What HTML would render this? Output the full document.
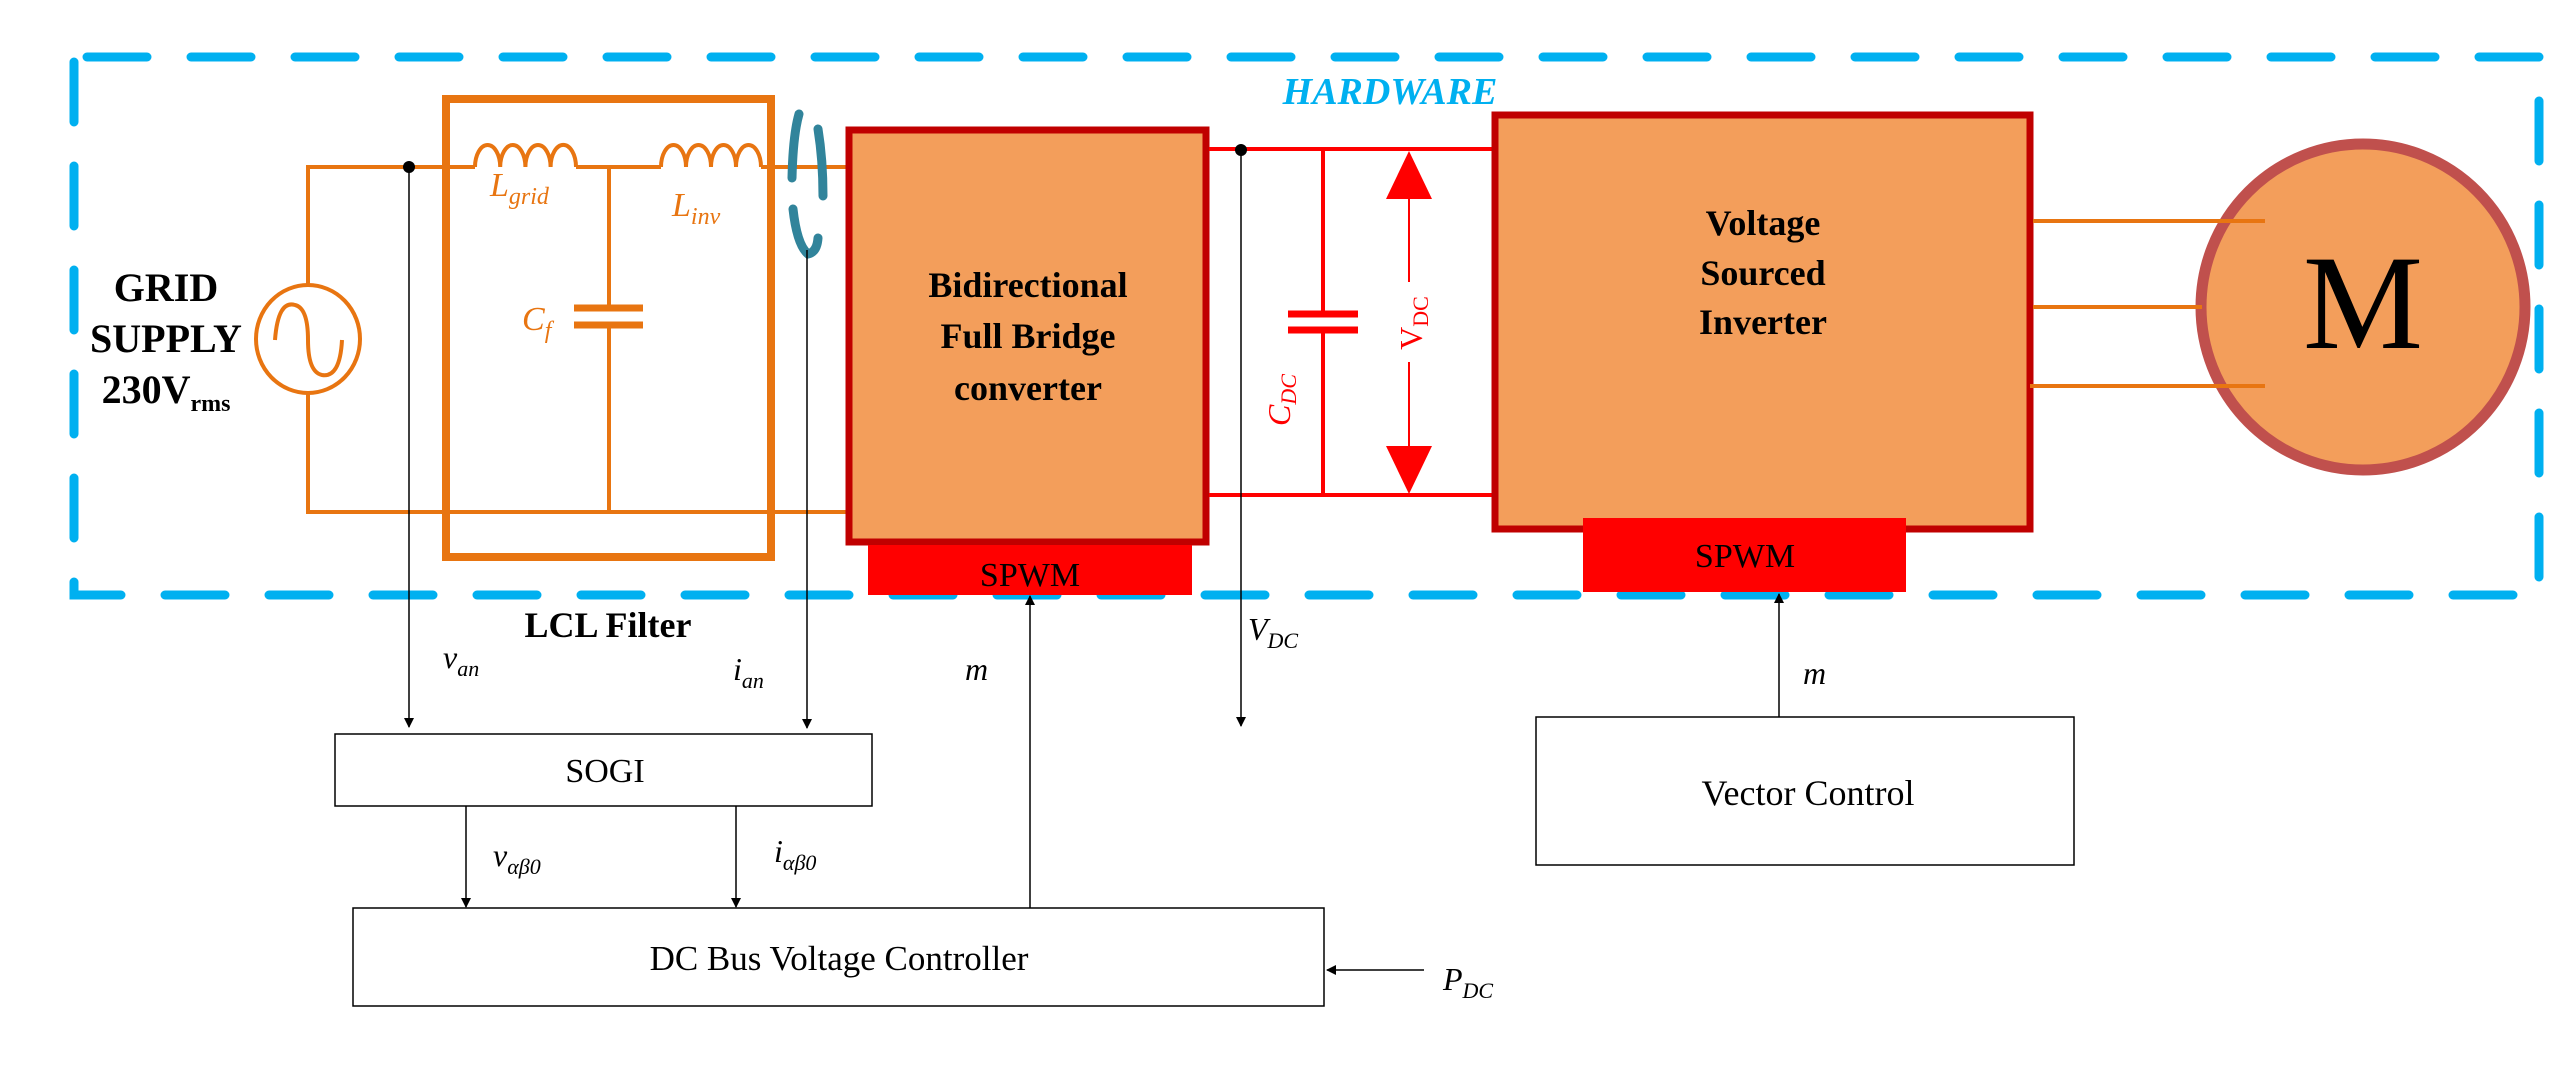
<!DOCTYPE html>
<html><head><meta charset="utf-8"><style>
html,body{margin:0;padding:0;background:#fff;}
svg{display:block;}
text{font-family:"Liberation Serif",serif;}
</style></head><body>
<svg width="2574" height="1073" viewBox="0 0 2574 1073" xmlns="http://www.w3.org/2000/svg">
<defs>
<marker id="ah" markerWidth="10" markerHeight="10" refX="9" refY="5" orient="auto" markerUnits="userSpaceOnUse" viewBox="0 0 10 10">
<path d="M0,0 L10,5 L0,10 z" fill="#000"/>
</marker>
</defs>
<!-- dashed hardware box -->
<rect x="74" y="57" width="2465" height="538" fill="none" stroke="#00b0f0" stroke-width="9" stroke-dasharray="60 44" stroke-dashoffset="-13" stroke-linecap="round"/>
<text x="1390" y="104" font-size="38" font-weight="bold" font-style="italic" fill="#00b0f0" text-anchor="middle">HARDWARE</text>

<!-- grid source wires -->
<g stroke="#e87511" stroke-width="4" fill="none">
<polyline points="308,286 308,167 475,167"/>
<polyline points="308,392 308,512 846,512"/>
<line x1="576" y1="167" x2="661" y2="167"/>
<line x1="761" y1="167" x2="846" y2="167"/>
<line x1="609" y1="167" x2="609" y2="308"/>
<line x1="609" y1="325" x2="609" y2="512"/>
<path d="M475 167 A12.6 22 0 0 1 500.2 167 A12.6 22 0 0 1 525.4 167 A12.6 22 0 0 1 550.6 167 A12.6 22 0 0 1 576 167"/>
<path d="M661 167 A12.5 22 0 0 1 686 167 A12.5 22 0 0 1 711 167 A12.5 22 0 0 1 736 167 A12.5 22 0 0 1 761 167"/>
<ellipse cx="308" cy="339" rx="52" ry="54" stroke-width="4"/>
<path d="M275 340 Q278 300 295 305 Q308 308 308 340 Q308 372 322 375 Q340 378 342 340"/>
</g>
<g stroke="#e87511" stroke-width="7">
<line x1="574" y1="308" x2="643" y2="308"/>
<line x1="574" y1="325" x2="643" y2="325"/>
</g>
<rect x="446" y="99" width="325" height="458" fill="none" stroke="#e87511" stroke-width="8"/>
<text x="166" y="301" font-size="40" font-weight="bold" text-anchor="middle">GRID</text>
<text x="166" y="352" font-size="40" font-weight="bold" text-anchor="middle">SUPPLY</text>
<text x="166" y="403" font-size="40" font-weight="bold" text-anchor="middle">230V<tspan font-size="24" dy="8">rms</tspan></text>
<text x="490" y="196" font-size="34" font-style="italic" fill="#e87511">L<tspan font-size="24" dy="8">grid</tspan></text>
<text x="672" y="216" font-size="34" font-style="italic" fill="#e87511">L<tspan font-size="24" dy="8">inv</tspan></text>
<text x="522" y="330" font-size="34" font-style="italic" fill="#e87511">C<tspan font-size="24" dy="8">f</tspan></text>

<!-- current sensor -->
<g stroke="#31849b" stroke-width="9" fill="none" stroke-linecap="round">
<path d="M792 178 Q793 135 799 114"/>
<path d="M818 129 Q823 160 823 196"/>
<path d="M793 209 Q797 245 808 254 Q817 252 818 238"/>
</g>

<!-- measurement dots and lines -->
<circle cx="409" cy="167" r="6" fill="#000"/>
<line x1="409" y1="167" x2="409" y2="727" stroke="#000" stroke-width="1.5" marker-end="url(#ah)"/>
<line x1="807" y1="250" x2="807" y2="728" stroke="#000" stroke-width="1.5" marker-end="url(#ah)"/>

<!-- converter -->
<rect x="849" y="130" width="357" height="412" fill="#f39e5b" stroke="#c00000" stroke-width="7"/>
<text x="1028" y="297" font-size="36" font-weight="bold" text-anchor="middle">Bidirectional</text>
<text x="1028" y="348" font-size="36" font-weight="bold" text-anchor="middle">Full Bridge</text>
<text x="1028" y="400" font-size="36" font-weight="bold" text-anchor="middle">converter</text>
<rect x="868" y="545" width="324" height="50" fill="#ff0000"/>
<text x="1030" y="586" font-size="34" text-anchor="middle">SPWM</text>

<!-- DC link -->
<g stroke="#ff0000" stroke-width="4">
<line x1="1209" y1="149" x2="1492" y2="149"/>
<line x1="1209" y1="495" x2="1492" y2="495"/>
<line x1="1323" y1="149" x2="1323" y2="314"/>
<line x1="1323" y1="330" x2="1323" y2="495"/>
<line x1="1409" y1="195" x2="1409" y2="282" stroke-width="2"/>
<line x1="1409" y1="362" x2="1409" y2="450" stroke-width="2"/>
</g>
<g stroke="#ff0000" stroke-width="7">
<line x1="1288" y1="314" x2="1358" y2="314"/>
<line x1="1288" y1="330" x2="1358" y2="330"/>
</g>
<path d="M1409 151 L1432 199 L1386 199 z" fill="#ff0000"/>
<path d="M1409 494 L1432 446 L1386 446 z" fill="#ff0000"/>
<text transform="translate(1422,323) rotate(-90)" font-size="32" fill="#ff0000" text-anchor="middle">V<tspan font-size="22" dy="6">DC</tspan></text>
<text transform="translate(1290,400) rotate(-90)" font-size="32" font-style="italic" fill="#ff0000" text-anchor="middle">C<tspan font-size="22" dy="6">DC</tspan></text>
<circle cx="1241" cy="150" r="6" fill="#000"/>
<line x1="1241" y1="150" x2="1241" y2="726" stroke="#000" stroke-width="1.5" marker-end="url(#ah)"/>

<!-- VSI -->
<rect x="1495" y="115" width="535" height="414" fill="#f39e5b" stroke="#c00000" stroke-width="7"/>
<text x="1763" y="235" font-size="36" font-weight="bold" text-anchor="middle">Voltage</text>
<text x="1763" y="285" font-size="36" font-weight="bold" text-anchor="middle">Sourced</text>
<text x="1763" y="334" font-size="36" font-weight="bold" text-anchor="middle">Inverter</text>
<rect x="1583" y="518" width="323" height="74" fill="#ff0000"/>
<text x="1745" y="567" font-size="34" text-anchor="middle">SPWM</text>

<!-- motor -->
<ellipse cx="2363" cy="307" rx="162" ry="163" fill="#f39e5b" stroke="#c0504d" stroke-width="11"/>
<g stroke="#e87511" stroke-width="4">
<line x1="2033" y1="221" x2="2265" y2="221"/>
<line x1="2033" y1="307" x2="2202" y2="307"/>
<line x1="2030" y1="386" x2="2265" y2="386"/>
</g>
<text x="2363" y="348" font-size="135" text-anchor="middle">M</text>

<!-- lower labels -->
<text x="608" y="637" font-size="36" font-weight="bold" text-anchor="middle">LCL  Filter</text>
<text x="443" y="668" font-size="32" font-style="italic">v<tspan font-size="22" dy="8">an</tspan></text>
<text x="733" y="680" font-size="32" font-style="italic">i<tspan font-size="22" dy="8">an</tspan></text>
<text x="965" y="680" font-size="32" font-style="italic">m</text>
<text x="1248" y="640" font-size="32" font-style="italic">V<tspan font-size="22" dy="8">DC</tspan></text>
<text x="1803" y="684" font-size="32" font-style="italic">m</text>

<!-- SOGI -->
<rect x="335" y="734" width="537" height="72" fill="none" stroke="#000" stroke-width="1.5"/>
<text x="605" y="782" font-size="34" text-anchor="middle">SOGI</text>
<line x1="466" y1="806" x2="466" y2="907" stroke="#000" stroke-width="1.5" marker-end="url(#ah)"/>
<line x1="736" y1="806" x2="736" y2="907" stroke="#000" stroke-width="1.5" marker-end="url(#ah)"/>
<text x="493" y="866" font-size="32" font-style="italic">v<tspan font-size="22" dy="8">αβ0</tspan></text>
<text x="774" y="862" font-size="32" font-style="italic">i<tspan font-size="22" dy="8">αβ0</tspan></text>

<!-- DC bus controller -->
<rect x="353" y="908" width="971" height="98" fill="none" stroke="#000" stroke-width="1.5"/>
<text x="839" y="970" font-size="35" text-anchor="middle">DC Bus Voltage Controller</text>
<line x1="1030" y1="908" x2="1030" y2="596" stroke="#000" stroke-width="1.5" marker-end="url(#ah)"/>
<line x1="1424" y1="970" x2="1327" y2="970" stroke="#000" stroke-width="1.5" marker-end="url(#ah)"/>
<text x="1443" y="990" font-size="32" font-style="italic">P<tspan font-size="22" dy="8">DC</tspan></text>

<!-- Vector control -->
<rect x="1536" y="717" width="538" height="148" fill="none" stroke="#000" stroke-width="1.5"/>
<text x="1808" y="805" font-size="36" text-anchor="middle">Vector Control</text>
<line x1="1779" y1="717" x2="1779" y2="594" stroke="#000" stroke-width="1.5" marker-end="url(#ah)"/>
</svg>
</body></html>
